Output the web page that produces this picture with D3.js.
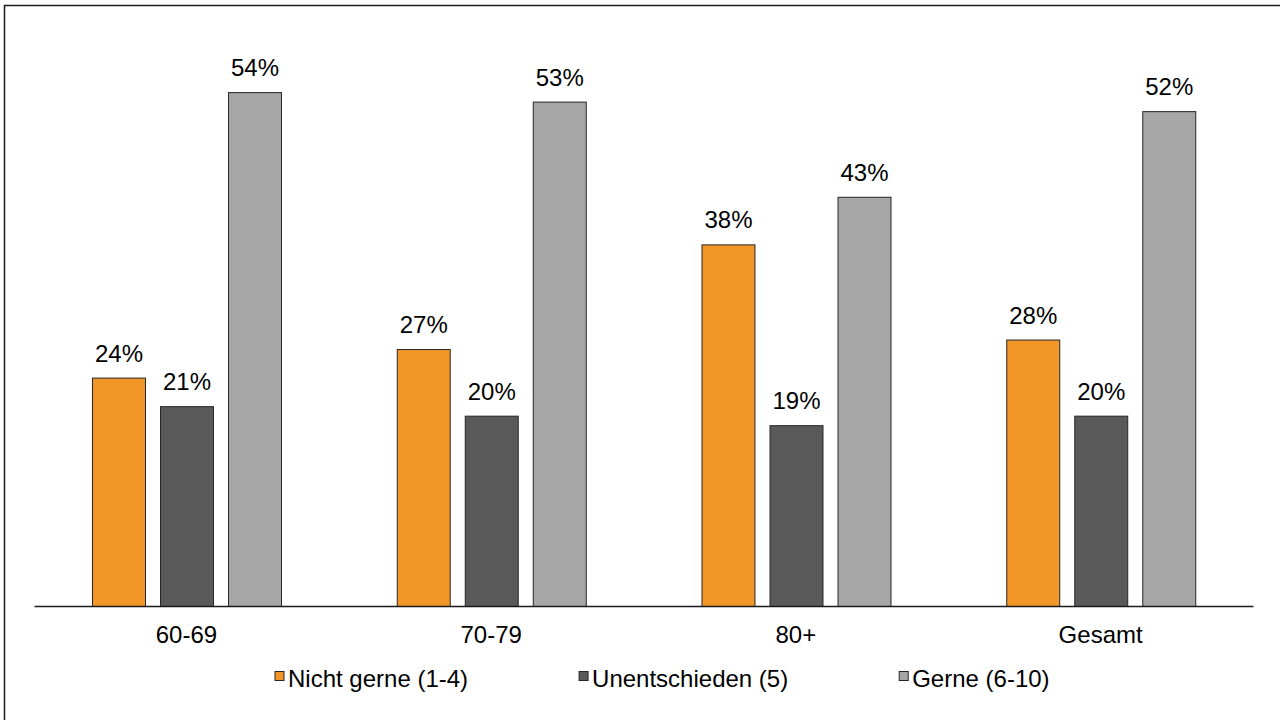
<!DOCTYPE html>
<html>
<head>
<meta charset="utf-8">
<script src="https://cdn.jsdelivr.net/npm/d3@7"></script>
<style>
  body { margin: 0; background: #fff; }
  svg { display: block; font-family: "Liberation Sans", Arial, sans-serif; }
</style>
</head>
<body>
<svg id="chart"></svg>
<script>
// data
const categories = ['60-69', '70-79', '80+', 'Gesamt'];
const seriesNames = ['Nicht gerne (1-4)', 'Unentschieden (5)', 'Gerne (6-10)'];
const nichtGerne = [24, 27, 38, 28];
const unentschieden = [21, 20, 19, 20];
const gerne = [54, 53, 43, 52];

const seriesValues = [nichtGerne, unentschieden, gerne];
const colors = ['#F29727', '#595959', '#A6A6A6'];

const width = 1280, height = 720;
const svg = d3.select('#chart')
    .attr('width', width)
    .attr('height', height);

// outer frame (only top and left edges fall inside the picture)
svg.append('rect')
    .attr('x', 4.5)
    .attr('y', 5.5)
    .attr('width', 1400)
    .attr('height', 900)
    .attr('fill', 'none')
    .attr('stroke', '#1a1a1a')
    .attr('stroke-width', 1.5);

const x0 = d3.scaleBand()
    .domain(categories)
    .range([34, 1253]);

const x1 = d3.scaleBand()
    .domain(seriesNames)
    .range([58, 247])
    .paddingInner(0.221);

const y = d3.scaleLinear()
    .domain([0, 60])
    .range([606, 35]);

const rows = categories.map((c, i) => ({
    cat: c,
    values: seriesNames.map((s, j) => ({ key: s, idx: j, value: seriesValues[j][i] }))
}));

const groups = svg.append('g')
    .selectAll('g')
    .data(rows)
    .join('g')
    .attr('transform', d => `translate(${x0(d.cat)},0)`);

groups.selectAll('rect')
    .data(d => d.values)
    .join('rect')
    .attr('x', d => x1(d.key) + 0.5)
    .attr('y', d => y(d.value) + 0.5)
    .attr('width', x1.bandwidth())
    .attr('height', d => y(0) - y(d.value))
    .attr('fill', d => colors[d.idx])
    .attr('stroke', '#262626')
    .attr('stroke-width', 1);

groups.selectAll('text')
    .data(d => d.values)
    .join('text')
    .attr('x', d => x1(d.key) + x1.bandwidth() / 2 + 0.5)
    .attr('y', d => y(d.value) - 16)
    .attr('text-anchor', 'middle')
    .attr('font-size', 24)
    .attr('fill', '#000')
    .text(d => d.value + '%');

// category axis
const xAxis = d3.axisBottom(x0).tickSize(0).tickPadding(0).tickSizeOuter(0);
const xAxisG = svg.append('g')
    .attr('transform', `translate(0,${y(0)})`)
    .call(xAxis);
xAxisG.select('.domain')
    .attr('stroke', '#1a1a1a')
    .attr('stroke-width', 1.5);
xAxisG.selectAll('.tick text')
    .attr('font-family', '"Liberation Sans", Arial, sans-serif')
    .attr('font-size', 24)
    .attr('fill', '#000')
    .attr('dy', null)
    .attr('y', 37);

// legend
const legend = svg.append('g').attr('transform', 'translate(275,671.5)');
let lx = 0;
seriesNames.forEach((s, i) => {
    const item = legend.append('g').attr('transform', `translate(${lx},0)`);
    item.append('rect')
        .attr('width', 9)
        .attr('height', 9)
        .attr('fill', colors[i])
        .attr('stroke', '#262626')
        .attr('stroke-width', 1);
    const t = item.append('text')
        .attr('x', 13)
        .attr('y', 15)
        .attr('font-size', 24)
        .attr('fill', '#000')
        .text(s);
    lx += 13 + t.node().getComputedTextLength() + 111;
});
</script>
</body>
</html>
